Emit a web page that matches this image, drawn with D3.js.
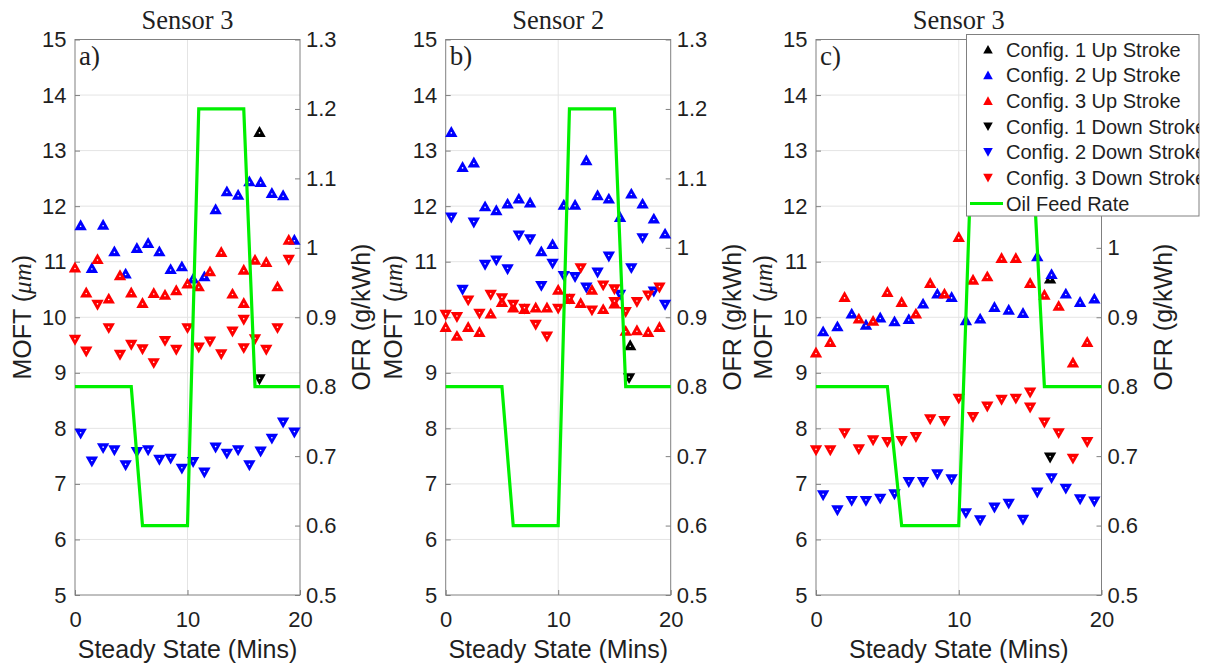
<!DOCTYPE html>
<html>
<head>
<meta charset="utf-8">
<script src="https://cdn.jsdelivr.net/npm/d3@7"></script>
<style>
  body { margin: 0; background: #fff; }
  svg { display: block; }
</style>
</head>
<body>
<svg id="fig" width="1208" height="669"></svg>
<script>
// ---------- shared axis data ----------
const moftTicks = [5, 6, 7, 8, 9, 10, 11, 12, 13, 14, 15];
const ofrTicks = [0.5, 0.6, 0.7, 0.8, 0.9, 1.0, 1.1, 1.2, 1.3];
const minuteTicks = [0, 10, 20];

// Oil feed rate schedule (g/kWh) against steady-state minutes
const ofrMinutes = [0, 5, 6, 10, 11, 15, 16, 20];
const ofrValues  = [0.8, 0.8, 0.6, 0.6, 1.2, 1.2, 0.8, 0.8];

// Half-minute sample times used by configuration 2
const halfMinutes = [0.5, 1.5, 2.5, 3.5, 4.5, 5.5, 6.5, 7.5, 8.5, 9.5,
                     10.5, 11.5, 12.5, 13.5, 14.5, 15.5, 16.5, 17.5, 18.5, 19.5];

// ---------- panel a (Sensor 3) ----------
const aC1Up   = [[16.4, 13.34]];
const aC1Down = [[16.4, 8.88]];
const aC2Up   = [11.66, 10.89, 11.67, 11.19, 10.79, 11.25, 11.34, 11.19, 10.87, 10.92,
                 10.70, 10.74, 11.95, 12.27, 12.21, 12.45, 12.44, 12.24, 12.20, 11.40];
const aC2Down = [7.90, 7.40, 7.64, 7.60, 7.33, 7.57, 7.60, 7.43, 7.45, 7.27,
                 7.39, 7.20, 7.65, 7.54, 7.60, 7.33, 7.58, 7.81, 8.10, 7.92];
const aC3Up   = [[0, 10.90], [1, 10.45], [2, 11.05], [3, 10.34], [4, 10.76], [5, 10.45],
                 [6, 10.26], [7, 10.44], [8, 10.41], [9, 10.49], [10, 10.61], [11, 10.56],
                 [12, 10.83], [13, 11.18], [14, 10.43], [15, 10.86], [15, 10.26], [16, 11.04],
                 [17, 11.00], [18, 10.56], [19, 11.40]];
const aC3Down = [[0, 9.59], [1, 9.38], [2, 10.22], [3, 9.80], [4, 9.32], [5, 9.50],
                 [6, 9.42], [7, 9.17], [8, 9.57], [9, 9.41], [10, 9.80], [11, 9.45],
                 [12, 9.56], [13, 9.33], [14, 9.74], [15, 9.95], [15, 9.44], [16, 9.60],
                 [17, 9.41], [18, 9.80], [19, 11.03]];

// ---------- panel b (Sensor 2) ----------
const bC1Up   = [[16.4, 9.50]];
const bC1Down = [[16.3, 8.90]];
const bC2Up   = [13.34, 12.71, 12.79, 12.00, 11.93, 12.05, 12.14, 12.07, 11.19, 11.32,
                 12.03, 12.03, 12.83, 12.20, 12.14, 11.81, 12.23, 12.05, 11.78, 11.51];
const bC2Down = [11.79, 10.49, 11.70, 10.94, 11.02, 10.86, 11.47, 11.40, 10.56, 10.96,
                 10.74, 10.72, 10.53, 10.80, 11.09, 10.40, 10.88, 11.42, 10.46, 10.22];
const bC3Up   = [[0, 9.83], [1, 9.67], [2, 9.83], [3, 9.74], [4, 10.07], [5, 10.28],
                 [6, 10.18], [7, 10.15], [8, 10.18], [9, 10.18], [10, 10.50], [11, 10.33],
                 [12, 10.26], [13, 10.50], [14, 10.15], [15, 10.25], [16, 9.76], [17, 9.77],
                 [18, 9.74], [19, 9.83]];
const bC3Down = [[0, 10.04], [1, 10.00], [2, 10.30], [3, 10.06], [4, 10.40], [5, 10.34],
                 [6, 10.22], [7, 10.15], [8, 9.86], [9, 9.65], [10, 10.15], [11, 10.33],
                 [12, 10.88], [13, 10.12], [14, 10.57], [15, 10.50], [15, 10.27], [16, 10.09],
                 [17, 10.27], [18, 10.39], [19, 10.53]];

// ---------- panel c (Sensor 3) ----------
const cC1Up   = [[16.4, 10.70]];
const cC1Down = [[16.4, 7.47]];
const cC2Up   = [9.75, 9.84, 10.07, 9.87, 10.00, 9.93, 9.97, 10.25, 10.43, 10.37,
                 9.95, 9.98, 10.19, 10.14, 10.08, 11.10, 10.78, 10.43, 10.28, 10.34];
const cC2Down = [6.79, 6.52, 6.69, 6.69, 6.73, 6.81, 7.03, 7.03, 7.17, 7.08,
                 6.47, 6.34, 6.57, 6.64, 6.35, 6.84, 7.10, 6.91, 6.72, 6.68];
const cC3Up   = [[0, 9.37], [1, 9.56], [2, 10.37], [3, 9.98], [4, 9.94], [5, 10.46],
                 [6, 10.28], [7, 10.07], [8, 10.62], [9, 10.43], [10, 11.45], [11, 10.68],
                 [12, 10.74], [13, 11.07], [14, 11.07], [15, 10.62], [16, 10.41], [17, 10.21],
                 [18, 9.19], [19, 9.56]];
const cC3Down = [[0, 7.60], [1, 7.60], [2, 7.91], [3, 7.62], [4, 7.78], [5, 7.75],
                 [6, 7.77], [7, 7.84], [8, 8.16], [9, 8.13], [10, 8.53], [11, 8.20],
                 [12, 8.39], [13, 8.51], [14, 8.53], [15, 8.64], [15, 8.37], [16, 8.10],
                 [17, 7.91], [18, 7.45], [19, 7.75]];

const legendLabels = ["Config. 1 Up Stroke", "Config. 2 Up Stroke", "Config. 3 Up Stroke",
                      "Config. 1 Down Stroke", "Config. 2 Down Stroke", "Config. 3 Down Stroke",
                      "Oil Feed Rate"];

// ---------- styling ----------
const SANS = "'Liberation Sans', Arial, Helvetica, sans-serif";
const SERIF = "'Liberation Serif', 'Times New Roman', serif";
const INK = "#1f1f1f";
const FRAME = "#808080";
const GRID = "#e4e4e4";
const GREEN = "#00f000";
const colors = { c1: "#000000", c2: "#0000ff", c3: "#ff0000" };

const pair = (xs, ys) => xs.map((x, i) => [x, ys[i]]);

const panels = [
  { title: "Sensor 3", tag: "a)", left: 75, right: 300,
    series: [
      { pts: aC1Up, color: colors.c1, up: true },
      { pts: pair(halfMinutes, aC2Up), color: colors.c2, up: true },
      { pts: aC3Up, color: colors.c3, up: true },
      { pts: aC1Down, color: colors.c1, up: false },
      { pts: pair(halfMinutes, aC2Down), color: colors.c2, up: false },
      { pts: aC3Down, color: colors.c3, up: false } ] },
  { title: "Sensor 2", tag: "b)", left: 445.7, right: 670.7,
    series: [
      { pts: bC1Up, color: colors.c1, up: true },
      { pts: pair(halfMinutes, bC2Up), color: colors.c2, up: true },
      { pts: bC3Up, color: colors.c3, up: true },
      { pts: bC1Down, color: colors.c1, up: false },
      { pts: pair(halfMinutes, bC2Down), color: colors.c2, up: false },
      { pts: bC3Down, color: colors.c3, up: false } ] },
  { title: "Sensor 3", tag: "c)", left: 816, right: 1101.5, legend: true,
    series: [
      { pts: cC1Up, color: colors.c1, up: true },
      { pts: pair(halfMinutes, cC2Up), color: colors.c2, up: true },
      { pts: cC3Up, color: colors.c3, up: true },
      { pts: cC1Down, color: colors.c1, up: false },
      { pts: pair(halfMinutes, cC2Down), color: colors.c2, up: false },
      { pts: cC3Down, color: colors.c3, up: false } ] }
];

const TOP = 39.5, BOTTOM = 595;
const svg = d3.select("#fig");

// triangle marker paths centred on the data point
function triPath(up, w, h) {
  const hw = w / 2, hh = h / 2;
  return up ? `M0,${-hh - 0.5}L${hw},${hh}L${-hw},${hh}Z`
            : `M0,${hh + 0.5}L${hw},${-hh}L${-hw},${-hh}Z`;
}

function drawPanel(p) {
  const x = d3.scaleLinear().domain([0, 20]).range([p.left, p.right]);
  const y = d3.scaleLinear().domain([5, 15]).range([BOTTOM, TOP]);
  const yr = d3.scaleLinear().domain([0.5, 1.3]).range([BOTTOM, TOP]);
  const g = svg.append("g");

  // grid
  g.append("g").selectAll("line.h").data(moftTicks.slice(1, -1)).join("line")
    .attr("x1", p.left).attr("x2", p.right)
    .attr("y1", d => y(d)).attr("y2", d => y(d))
    .attr("stroke", GRID).attr("stroke-width", 1);
  g.append("g").selectAll("line.v").data(minuteTicks.slice(1, -1)).join("line")
    .attr("x1", d => x(d)).attr("x2", d => x(d))
    .attr("y1", TOP).attr("y2", BOTTOM)
    .attr("stroke", GRID).attr("stroke-width", 1);

  // axes
  const styleAxis = sel => {
    sel.select(".domain").remove();
    sel.selectAll(".tick line").attr("stroke", FRAME);
    sel.selectAll(".tick text").attr("fill", INK)
      .style("font-family", SANS).style("font-size", "22px");
  };
  g.append("g").attr("transform", `translate(${p.left},0)`)
    .call(d3.axisLeft(y).tickValues(moftTicks).tickFormat(d3.format("d"))
      .tickSize(-5).tickPadding(8.5))
    .call(styleAxis);
  const rightAxis = g.append("g").attr("transform", `translate(${p.right},0)`)
    .call(d3.axisRight(yr).tickValues(ofrTicks).tickFormat(d3.format("~g"))
      .tickSize(-5).tickPadding(6))
    .call(styleAxis);
  // the legend box sits over the upper right-axis labels of the last panel
  if (p.legend) rightAxis.selectAll(".tick text").filter(d => d > 1.05).remove();
  g.append("g").attr("transform", `translate(0,${BOTTOM})`)
    .call(d3.axisBottom(x).tickValues(minuteTicks).tickFormat(d3.format("d"))
      .tickSize(-5).tickPadding(16.5))
    .call(styleAxis);

  // frame
  g.append("rect")
    .attr("x", p.left).attr("y", TOP)
    .attr("width", p.right - p.left).attr("height", BOTTOM - TOP)
    .attr("fill", "none").attr("stroke", FRAME).attr("stroke-width", 1);

  // markers
  p.series.forEach(s => {
    const m = g.append("g").selectAll("g").data(s.pts).join("g")
      .attr("transform", d => `translate(${x(d[0])},${y(d[1])})`);
    m.append("path").attr("d", triPath(s.up, 12.4, 10.4)).attr("fill", s.color);
    m.append("circle").attr("cy", s.up ? 1.2 : -1.2).attr("r", 0.8).attr("fill", "#fff");
  });

  // oil feed rate line
  const line = d3.line().x(d => x(d[0])).y(d => yr(d[1]));
  g.append("path")
    .datum(ofrMinutes.map((m, i) => [m, ofrValues[i]]))
    .attr("d", line).attr("fill", "none")
    .attr("stroke", GREEN).attr("stroke-width", 3.2)
    .attr("stroke-linejoin", "miter");

  // titles and labels
  const cy = (TOP + BOTTOM) / 2;
  g.append("text").attr("x", (p.left + p.right) / 2).attr("y", 29)
    .attr("text-anchor", "middle").attr("fill", INK)
    .style("font-family", SERIF).style("font-size", "26.5px").text(p.title);
  g.append("text").attr("x", p.left + 4).attr("y", 65)
    .attr("fill", INK)
    .style("font-family", SERIF).style("font-size", "27px").text(p.tag);

  const moft = g.append("text")
    .attr("transform", `translate(${p.left - 44},${cy}) rotate(-90)`)
    .attr("text-anchor", "middle").attr("fill", INK)
    .style("font-family", SANS).style("font-size", "25px");
  moft.append("tspan").text("MOFT (");
  moft.append("tspan").style("font-family", SERIF).style("font-style", "italic").text("\u03BCm");
  moft.append("tspan").text(")");

  g.append("text")
    .attr("transform", `translate(${p.right + 70},${cy}) rotate(-90)`)
    .attr("text-anchor", "middle").attr("fill", INK)
    .style("font-family", SANS).style("font-size", "25px").text("OFR (g/kWh)");

  g.append("text").attr("x", (p.left + p.right) / 2).attr("y", 658)
    .attr("text-anchor", "middle").attr("fill", INK)
    .style("font-family", SANS).style("font-size", "25px").text("Steady State (Mins)");

  if (p.legend) drawLegend();
}

function drawLegend() {
  const lx = 966.5, ly = 34.5, lw = 232.5, lh = 181.5;
  const rowY = d3.scaleLinear().domain([0, 6]).range([49.5, 203.5]);
  const defs = svg.append("defs");
  defs.append("clipPath").attr("id", "legendClip")
    .append("rect").attr("x", lx).attr("y", ly).attr("width", lw).attr("height", lh);
  const lg = svg.append("g");
  lg.append("rect").attr("x", lx).attr("y", ly).attr("width", lw).attr("height", lh)
    .attr("fill", "#fff").attr("stroke", FRAME).attr("stroke-width", 1);
  const inner = lg.append("g").attr("clip-path", "url(#legendClip)");
  const keys = [
    { color: colors.c1, up: true }, { color: colors.c2, up: true }, { color: colors.c3, up: true },
    { color: colors.c1, up: false }, { color: colors.c2, up: false }, { color: colors.c3, up: false },
    { line: true }
  ];
  keys.forEach((k, i) => {
    const yy = rowY(i);
    if (k.line) {
      inner.append("line").attr("x1", 970).attr("x2", 1003).attr("y1", yy).attr("y2", yy)
        .attr("stroke", GREEN).attr("stroke-width", 3.2);
    } else {
      inner.append("path").attr("transform", `translate(988,${yy})`)
        .attr("d", triPath(k.up, 9.6, 8.2)).attr("fill", k.color);
    }
    inner.append("text").attr("x", 1006).attr("y", yy + 7)
      .attr("fill", INK).style("font-family", SANS).style("font-size", "20px")
      .text(legendLabels[i]);
  });
}

panels.forEach(drawPanel);
</script>
</body>
</html>
